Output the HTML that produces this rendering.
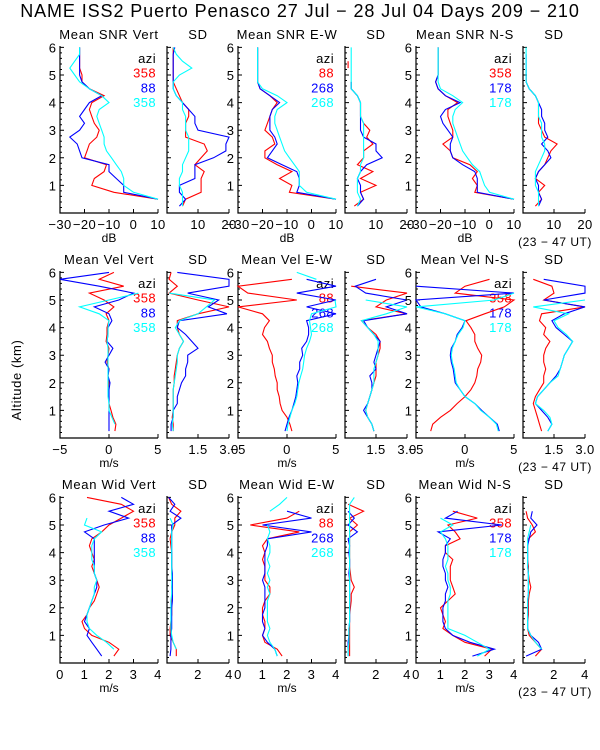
<!DOCTYPE html>
<html><head><meta charset="utf-8"><style>
html,body{margin:0;padding:0;background:#fff;}
svg{display:block;font-family:"Liberation Sans",sans-serif;}
</style></head><body>
<svg id="chart" width="600" height="750" xmlns="http://www.w3.org/2000/svg">
<text x="300" y="17" font-size="18" letter-spacing="0.9" text-anchor="middle">NAME ISS2 Puerto Penasco  27 Jul − 28 Jul 04 Days 209 − 210</text>
<text transform="translate(21,380) rotate(-90)" font-size="13" letter-spacing="0.6" text-anchor="middle">Altitude (km)</text>
</svg>
<script>
const altitudes=[0.25,0.5,0.75,1,1.25,1.5,1.75,2,2.25,2.5,2.75,3,3.25,3.5,3.75,4,4.25,4.5,4.75,5,5.25,5.5,5.75,6];
const N=null;
// Row 1 SNR
const snrVertRed=[N,10,-8,-17,-16,-12,-11,-20,-19,-18,-15,-14,-16,-17,-18,-17,-12,-18,-21,-21,-22,-22,-22,-22];
const snrVertBlue=[N,10,-4,-4,-7,-10,-10,-21,-22,-23,-26,-22,-20,-22,-20,-18,-13,-18,-21,-22,-22,-22,-22,-22];
const snrVertCyan=[N,10,0,-4,-4,-5,-7,-9,-11,-12,-12,-13,-14,-15,-14,-10,-13,-18,-22,-24,-26,-24,-22,-22];
const sdSnrVertRed=[5,6,11,11,11,12,9,11,13,12,6,6,6,7,7,5,4,3,2,2,2,2,2,2];
const sdSnrVertBlue=[4,6,4,4,9,9,9,15,19,19,20,10,9,9,7,5,3,2,2,2,2,2,2,2.5];
const sdSnrVertCyan=[5,5,5,4,4,5,5,6,7,7,7,6,6,6,5,5,3,2,2,4,8,5,3,2];
const snrEWRed=[N,10,-9,-8,-13,-8,-14,-19,-19,-15,-16,-19,-18,-17,-16,-14,-17,-21,-22,-22,-22,-22,-22,-22];
const snrEWBlue=[N,10,-6,-5,-5,-6,-12,-18,-16,-14,-15,-17,-17,-17,-16,-13,-17,-21,-22,-22,-22,-22,-22,-22];
const snrEWCyan=[N,10,-2,-5,-5,-5,-7,-9,-11,-12,-13,-14,-15,-15,-14,-10,-14,-20,-22,-22,-22,-22,-22,-22];
const sdSnrEWRed=[3,6,5,10,5,9,4,6,6,9,7,8,6,5,5,5,4,2,2,N,1,1,N,N];
const sdSnrEWBlue=[4,6,5,5,4,5,7,12,10,10,6,5,5,5,5,5,4,2,2,N,N,N,N,N];
const sdSnrEWCyan=[4,5,4,4,4,5,5,6,6,6,6,6,6,5,5,5,4,2,2,2,2,2,2,2];
const snrNSRed=[N,10,-6,-5,-7,-5,-8,-15,-16,-19,-15,-15,-16,-17,-17,-13,-18,-21,-22,-21,-21,-21,-21,-21];
const snrNSBlue=[N,10,-5,-5,-5,-6,-11,-15,-16,-16,-15,-17,-19,-20,-18,-12,-18,-21,-22,-21,-21,-21,-21,-21];
const snrNSCyan=[N,10,0,-2,-3,-4,-7,-9,-11,-12,-13,-14,-15,-15,-14,-11,-15,-20,-21,-21,-21,-21,-21,-21];
const sdSnrNSRed=[4,6,5,7,4,5,7,8,9,11,7,6,5,5,5,5,4,2,1,1,N,N,N,N];
const sdSnrNSBlue=[5,6,5,5,4,5,7,9,8,6,8,7,7,6,6,5,4,2,1,1,1,1,1,N];
const sdSnrNSCyan=[5,5,5,4,4,4,5,6,7,7,6,6,6,5,5,5,4,2,1,1,1,1,1,1];
// Row 2 velocity
const velVertRed=[0.6,0.7,0.4,0.2,0,0,-0.1,0,-0.1,0,-0.2,-0.1,0,-0.3,-0.2,-0.2,0,-0.3,0.5,-0.5,-2,1.5,-1,0.5];
const velVertBlue=[0,0,0,0,0,0,0,0.1,-0.1,0,-0.4,0,0.4,-0.2,-0.1,-0.1,0.3,0,-1.5,1,2.5,-1,-5,0];
const velVertCyan=[N,0.6,0.3,0,0,-0.1,-0.1,-0.1,-0.1,-0.1,-0.1,-0.1,-0.1,-0.2,-0.1,-0.1,0,-1,-3,0,3,N,N,N];
const sdVelVertRed=[0.3,0.3,0.25,0.3,0.3,0.3,0.3,0.35,0.35,0.4,0.45,0.5,0.6,0.8,0.6,0.5,0.5,1.5,3,1.5,0.1,0.5,0.1,0.2];
const sdVelVertBlue=[0.2,0.2,0.3,0.3,0.5,0.5,0.6,0.7,0.9,0.9,1,1,1.5,1.2,0.9,0.5,0.6,2.9,2,2.5,1,3,3,0.5];
const sdVelVertCyan=[0.3,0.25,0.3,0.3,0.3,0.3,0.3,0.35,0.4,0.45,0.5,0.5,0.6,0.8,0.6,0.4,0.6,1.5,1.9,2.3,0.1,N,N,N];
const velEWRed=[0.5,0.3,0,-0.5,-0.7,-0.8,-1,-1,-1.2,-1.3,-1.5,-1.5,-1.8,-2,-2.5,-2.3,-1.8,-2.5,-5,1,-4,-5,0.5,N];
const velEWBlue=[-0.2,0,0.2,0.5,0.7,0.9,1,1.1,1,1.3,1.3,1.6,1.5,2,2.2,2.2,2,5,2,5,1,5,2,N];
const velEWCyan=[0,0.1,0.3,0.5,0.8,1,1.1,1.2,1.4,1.6,1.7,1.8,2,2.3,2.5,2.4,2.3,2.5,5,4.9,N,N,3,1];
const sdVelEWRed=[1.4,1.3,1.1,1,1.1,1.2,1.3,1.4,1.5,1.5,1.5,1.6,1.7,1.7,1.5,1.1,0.8,3,1.5,2,3,0.3,N,N];
const sdVelEWBlue=[1.4,1.3,1.1,0.9,1.1,1.2,1.3,1.3,1.2,1.5,1.4,1.5,1.6,1.7,1.4,1.1,0.9,3,2,3,1,0.5,1.5,N];
const sdVelEWCyan=[1.4,1.3,1.1,1,1.1,1.2,1.3,1.4,1.4,1.4,1.5,1.6,1.6,1.6,1.4,1.1,0.8,2,3,1,N,N,N,N];
const velNSRed=[-3.5,-3.3,-2.5,-1.5,-0.8,0,0.6,1,1.2,1.3,1.6,1.7,1.3,1,1,0.6,0.1,2,4,5,-1,0,2.5,N];
const velNSBlue=[3.5,3.3,2.5,1.7,1,0,-0.5,-1,-1.1,-1.2,-1.4,-1.5,-1.4,-1,-0.8,-0.3,0,-2,-4.5,-5,5,-5,N,N];
const velNSCyan=[3.4,3.2,2.5,1.6,1,0,-0.5,-0.9,-1,-1.1,-1.3,-1.4,-1.3,-1,-0.7,-0.2,0,-2,-5,3,5,N,-5,N];
const sdVelNSRed=[0.9,0.8,0.7,0.6,0.5,0.6,0.8,1,1,1.1,1,1,1.1,1.3,1,1.1,0.8,0.9,3,1,1.5,1.4,0.5,N];
const sdVelNSBlue=[1.2,1.4,1.2,0.9,0.6,0.7,1,1.3,1.6,1.8,1.9,2,2.2,2.4,2,1.6,1.4,2,3,1,3,3,1,N];
const sdVelNSCyan=[1.2,1.4,1.3,1,0.6,0.7,1,1.3,1.7,1.8,1.9,2,2.2,2.4,2.1,1.7,1.5,2.2,0.5,3,N,N,N,N];
// Row 3 width
const widVertRed=[2.2,2.4,2,1.3,1,0.9,1.1,1.2,1.4,1.5,1.6,1.5,1.4,1.3,1.4,1.3,1.2,1.3,1.7,2,2.5,3,2.5,1.1];
const widVertBlue=[1.7,1.5,1.3,1.1,1.2,1,1.1,1.2,1.3,1.4,1.5,1.5,1.4,1.4,1.4,1.4,1.4,1.4,1,1.8,2.8,2,3,2.5];
const widVertCyan=[N,2.2,1.9,1.5,1.2,1.1,1.1,1.2,1.3,1.4,1.4,1.5,1.4,1.4,1.3,1.3,1.3,1.4,1.7,1,1.1,N,N,N];
const sdWidVertRed=[0.6,0.6,0.4,0.2,0.2,0.25,0.3,0.3,0.3,0.35,0.3,0.35,0.3,0.3,0.3,0.3,0.25,0.2,0.3,0.5,0.5,0.9,0.3,0.1];
const sdWidVertBlue=[0.2,0.25,0.25,0.25,0.3,0.3,0.3,0.3,0.35,0.35,0.35,0.35,0.35,0.3,0.3,0.3,0.3,0.3,0.3,0.3,0.9,0.2,0.5,0.1];
const sdWidVertCyan=[N,0.6,0.4,0.3,0.25,0.25,0.25,0.25,0.25,0.3,0.3,0.3,0.3,0.3,0.3,0.3,0.3,0.3,0.3,0.4,0.2,N,N,N];
const widEWRed=[1.8,1.6,1.1,1,1.1,1.1,1,1,1.1,1.3,1.3,1.1,1.1,1.1,1,1.1,1,1.2,2.5,0.5,2,2.5,N,N];
const widEWBlue=[1.6,1.5,1.2,1,1.1,1,1,1.1,1.1,1.1,1.1,1,1.1,1.1,1.1,1.1,1.2,1.2,3,1,3,2,N,N];
const widEWCyan=[1.6,1.5,1.3,1.2,1.3,1.2,1.2,1.2,1.2,1.3,1.2,1.3,1.2,1.3,1.2,1.3,1.3,1.2,1.3,1.2,N,1.3,1.7,2];
const sdWidEWRed=[0.3,0.3,0.3,0.3,0.3,0.3,0.3,0.35,0.4,0.4,0.6,0.4,0.35,0.3,0.3,0.3,0.3,0.3,0.3,0.8,0.3,1.2,0.2,N];
const sdWidEWBlue=[0.2,0.2,0.2,0.25,0.25,0.3,0.3,0.3,0.3,0.3,0.3,0.3,0.25,0.3,0.3,0.25,0.3,0.2,0.8,0.2,0.6,0.2,N,N];
const sdWidEWCyan=[0.2,0.2,0.25,0.25,0.25,0.3,0.3,0.3,0.3,0.3,0.3,0.3,0.3,0.3,0.3,0.3,0.3,0.3,0.3,0.3,0.3,0.3,0.3,0.6];
const widNSRed=[2.8,3.1,2,1.5,1.1,1.2,1.1,1,1.3,1.6,1.5,1.4,1.4,1.4,1.5,1.2,1.2,1.8,1.6,1.3,2.5,1.5,N,N];
const widNSBlue=[2.3,3.2,2.2,1.5,1.2,1.1,1.1,1.1,1.2,1.2,1.3,1.2,1.2,1.1,1.1,1.2,1.2,1.4,0.9,3.5,1.2,1.7,N,N];
const widNSCyan=[2.5,3,2.5,2,1.3,1.3,1.3,1.3,1.3,1.4,1.4,1.3,1.3,1.2,1.3,1.3,1.3,1.2,1,1.5,1,N,N,N];
const sdWidNSRed=[0.8,1.2,0.8,0.4,0.3,0.3,0.35,0.35,0.35,0.4,0.5,0.4,0.35,0.35,0.3,0.3,0.3,0.35,0.8,0.6,0.3,0.2,N,N];
const sdWidNSBlue=[0.2,1.2,1,0.5,0.3,0.3,0.3,0.3,0.3,0.35,0.35,0.35,0.35,0.3,0.3,0.3,0.3,0.4,0.5,0.9,0.5,0.6,N,N];
const sdWidNSCyan=[N,1.2,0.8,0.5,0.3,0.3,0.3,0.3,0.3,0.35,0.35,0.35,0.35,0.3,0.3,0.3,0.3,0.3,0.4,0.5,N,N,N,N];

const mainTicksSnr=["-30","-20","-10","0","10"], sdTicksSnr=["10","20"];
const mainTicksVel=["-5","0","5"], sdTicksVel=["1.5","3.0"];
const mainTicksWid=["0","1","2","3","4"], sdTicksWid=["2","4"];
const legendVert=["358","88","358"], legendEW=["88","268","268"], legendNS=["358","178","178"];

const svg=document.getElementById('chart');
const NS='http://www.w3.org/2000/svg';
const COLORS=['#ff0000','#0000ff','#00ffff'];
function mk(tag,attrs,parent){const e=document.createElementNS(NS,tag);for(const k in attrs)e.setAttribute(k,attrs[k]);(parent||svg).appendChild(e);return e;}

const rowBase=[213,438,663];
const KM=27.6;
const colX=[[60,158],[167,229],[238,336],[345,407],[416,514],[523,585]];
const rows=[
 {unit:'dB',main:[-30,10],sd:[0,20],mt:mainTicksSnr,st:sdTicksSnr,name:'SNR',
  series:[[snrVertRed,snrVertBlue,snrVertCyan],[sdSnrVertRed,sdSnrVertBlue,sdSnrVertCyan],[snrEWRed,snrEWBlue,snrEWCyan],[sdSnrEWRed,sdSnrEWBlue,sdSnrEWCyan],[snrNSRed,snrNSBlue,snrNSCyan],[sdSnrNSRed,sdSnrNSBlue,sdSnrNSCyan]]},
 {unit:'m/s',main:[-5,5],sd:[0,3],mt:mainTicksVel,st:sdTicksVel,name:'Vel',
  series:[[velVertRed,velVertBlue,velVertCyan],[sdVelVertRed,sdVelVertBlue,sdVelVertCyan],[velEWRed,velEWBlue,velEWCyan],[sdVelEWRed,sdVelEWBlue,sdVelEWCyan],[velNSRed,velNSBlue,velNSCyan],[sdVelNSRed,sdVelNSBlue,sdVelNSCyan]]},
 {unit:'m/s',main:[0,4],sd:[0,4],mt:mainTicksWid,st:sdTicksWid,name:'Wid',
  series:[[widVertRed,widVertBlue,widVertCyan],[sdWidVertRed,sdWidVertBlue,sdWidVertCyan],[widEWRed,widEWBlue,widEWCyan],[sdWidEWRed,sdWidEWBlue,sdWidEWCyan],[widNSRed,widNSBlue,widNSCyan],[sdWidNSRed,sdWidNSBlue,sdWidNSCyan]]}
];
const dirs=['Vert','E-W','N-S'];
const legends=[legendVert,legendEW,legendNS];

rows.forEach((row,ri)=>{
  const y0=rowBase[ri];
  const yTop=y0-6.05*KM;
  const yS=a=>y0-a*KM;
  colX.forEach((cx,ci)=>{
    const isMain=ci%2===0;
    const dom=isMain?row.main:row.sd;
    const xS=v=>cx[0]+(v-dom[0])/(dom[1]-dom[0])*(cx[1]-cx[0]);
    const g=mk('g',{});
    
    
    const ax=mk('path',{d:`M${cx[0]} ${yTop}V${y0}H${cx[1]}`,stroke:'#000','stroke-width':1.2,fill:'none'},g);
    
    
    let td='';
    for(let a=0.2;a<=6.01;a+=0.2){const y=yS(a);const major=Math.abs(a-Math.round(a))<0.01;td+=`M${cx[0]} ${y.toFixed(1)}h${major?4:2}`;}
    const tk=mk('path',{d:td,stroke:'#000','stroke-width':1},g);
    
    
    const labs=isMain?row.mt:row.st;
    let xd='';
    labs.forEach(l=>{const x=xS(parseFloat(l));xd+=`M${x.toFixed(1)} ${y0}v-4`;});
    const xt=mk('path',{d:xd,stroke:'#000','stroke-width':1},g);
    
    
    labs.forEach(l=>{
      const t=mk('text',{x:xS(parseFloat(l)),y:y0+16,'font-size':13,'letter-spacing':0.4,'text-anchor':'middle'},g);
      t.textContent=l.replace('-','−');
      
      
    });
    if(isMain){
      for(let k=1;k<=6;k++){
        const t=mk('text',{x:cx[0]-4,y:yS(k)+5,'font-size':13,'text-anchor':'end'},g);
        t.textContent=k;
        
        
      }
      const u=mk('text',{x:(cx[0]+cx[1])/2,y:y0+29,'font-size':12,'text-anchor':'middle'},g);
      u.textContent=row.unit;
      
      
      const lg=legends[ci>>1];
      const items=['azi'].concat(lg);
      items.forEach((s,k)=>{
        const t=mk('text',{x:cx[1]-2,y:yTop+17+k*14.7,'font-size':13,'letter-spacing':0.4,'text-anchor':'end',fill:k===0?'#000':COLORS[k-1]},g);
        t.textContent=s;
        
        
      });
    }
    const title=mk('text',{x:(cx[0]+cx[1])/2,y:yTop-7,'font-size':13,'letter-spacing':0.7,'text-anchor':'middle'},g);
    title.textContent=isMain?('Mean '+row.name+' '+dirs[ci>>1]):'SD';
    
    
    row.series[ci].forEach((vals,si)=>{
      let d='',pen=false;
      vals.forEach((v,i)=>{
        if(v===null){pen=false;return;}
        const vv=Math.max(dom[0],Math.min(dom[1],v));
        d+=(pen?'L':'M')+xS(vv).toFixed(1)+' '+yS(altitudes[i]).toFixed(1);
        pen=true;
      });
      const p=mk('path',{d:d,stroke:COLORS[si],'stroke-width':1.1,fill:'none'},g);
      
      
    });
  });
  const ut=mk('text',{x:555,y:y0+33,'font-size':12,'letter-spacing':0.5,'text-anchor':'middle'});
  ut.textContent='(23 − 47 UT)';
  
  
});
</script>
</body></html>
